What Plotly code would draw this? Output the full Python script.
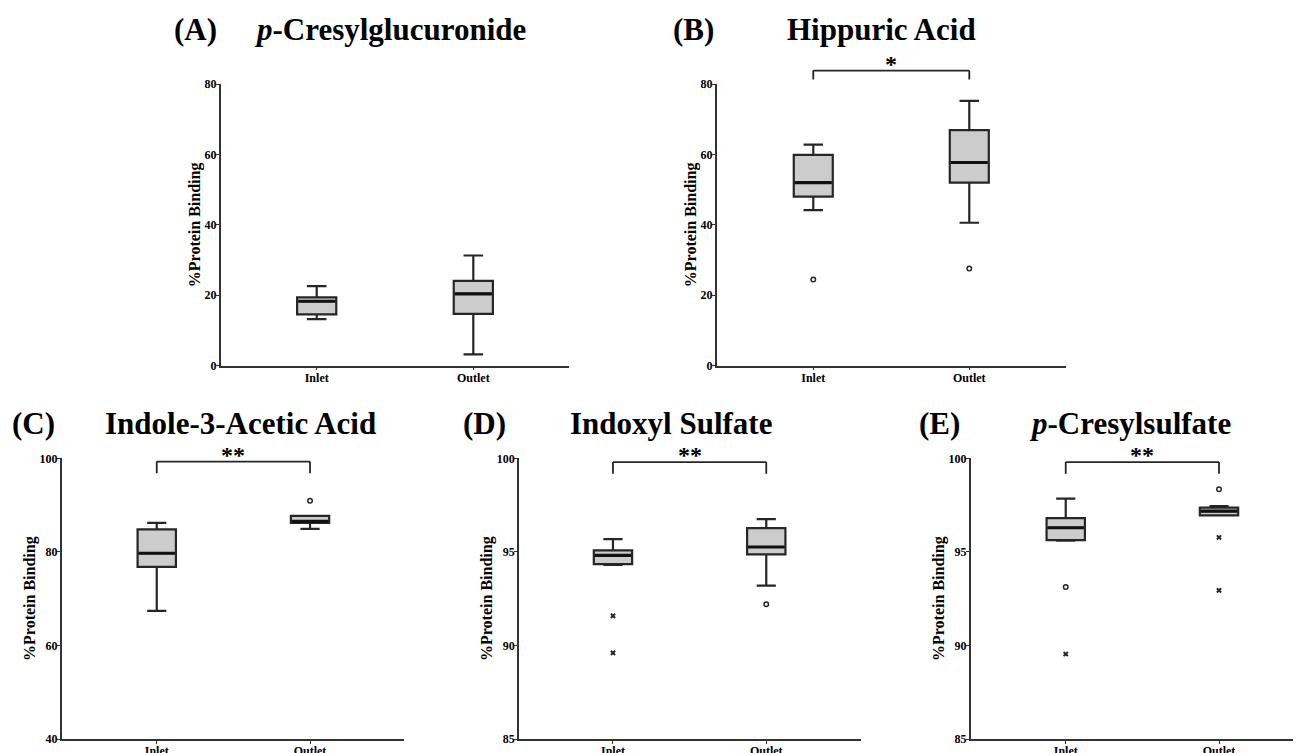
import plotly.graph_objects as go

OFF = 8                      # page body margin of the browser
W, H = 1301 - OFF, 753 - OFF
FONT = "Liberation Serif"
cats = ["Inlet", "Outlet"]

# panel titles
panel_labels = ["(A)", "(B)", "(C)", "(D)", "(E)"]
panel_titles = ["<i>p</i>-Cresylglucuronide", "Hippuric Acid", "Indole-3-Acetic Acid",
                "Indoxyl Sulfate", "<i>p</i>-Cresylsulfate"]

# box statistics per panel: [Inlet, Outlet]
lowerfence = [[13.2, 3.2], [44.2, 40.6], [67.4, 84.9], [94.3, 93.2], [95.6, 96.95]]
q1 = [[14.6, 14.7], [48.0, 52.0], [76.8, 86.2], [94.35, 94.87], [95.63, 96.95]]
median = [[18.3, 20.4], [52.0, 57.7], [79.7, 86.5], [94.81, 95.26], [96.29, 97.18]]
q3 = [[19.4, 24.1], [59.9, 66.9], [84.8, 87.7], [95.08, 96.27], [96.8, 97.36]]
upperfence = [[22.6, 31.3], [62.8, 75.2], [86.2, 87.7], [95.68, 96.75], [97.84, 97.45]]

# outliers (circles) and extremes (crosses): lists of (category, value)
out_circle = [[], [("Inlet", 24.5), ("Outlet", 27.6)], [("Outlet", 90.9)],
              [("Outlet", 92.2)], [("Inlet", 93.12), ("Outlet", 98.35)]]
out_cross = [[], [], [], [("Inlet", 91.58), ("Inlet", 89.6)],
             [("Inlet", 89.54), ("Outlet", 95.77), ("Outlet", 92.94)]]

# y-axis settings
y_ranges = [[0, 80], [0, 80], [40, 100], [85, 100], [85, 100]]
y_dticks = [20, 20, 20, 5, 5]

# significance brackets: (top value, end value, stars) or None
brackets = [None, (83.8, 81.3, "*"), (99.3, 96.8, "**"), (99.8, 99.17, "**"), (99.8, 99.17, "**")]

# layout geometry (screen pixels)
x_px = [(220.7, 569), (716.7, 1065.7), (61.7, 404), (519, 861), (970.7, 1301)]
y_px = [(84, 365.7), (84, 365.7), (458.3, 739), (458.3, 739), (458.3, 739)]
x_ranges = [[-0.613, 1.611], [-0.619, 1.618], [-0.62, 1.613], [-0.613, 1.618], [-0.62, 1.535]]
label_pos = [(195, 29), (693, 29), (33, 423), (484, 423), (939, 423)]
title_pos = [(390, 29), (881, 29), (240, 423), (671, 423), (1130, 423)]

fx = lambda p: min(1.0, max(0.0, (p - OFF) / W))
fy = lambda p: min(1.0, max(0.0, 1 - (p - OFF) / H))

fig = go.Figure()
layout = dict(
    width=W, height=H, margin=dict(l=0, r=0, t=0, b=0, pad=0, autoexpand=False),
    paper_bgcolor="white", plot_bgcolor="white", showlegend=False,
    font=dict(family=FONT, color="black"),
)
annotations = []
shapes = []
LINE = "#262626"

for i in range(5):
    n = i + 1
    xa = "x" if n == 1 else f"x{n}"
    ya = "y" if n == 1 else f"y{n}"
    xd = [fx(x_px[i][0]), fx(x_px[i][1])]
    yd = [fy(y_px[i][1]), fy(y_px[i][0])]
    fig.add_trace(go.Box(
        x=cats, q1=q1[i], median=median[i], q3=q3[i],
        lowerfence=lowerfence[i], upperfence=upperfence[i],
        boxpoints=False, width=0.25, whiskerwidth=0.5,
        fillcolor="#cccccc", line=dict(color=LINE, width=2.2),
        xaxis=xa, yaxis=ya, hoverinfo="skip",
    ))
    # thicker median line
    fig.add_trace(go.Box(
        x=cats, q1=median[i], median=median[i], q3=median[i],
        lowerfence=median[i], upperfence=median[i],
        boxpoints=False, width=0.235, whiskerwidth=0,
        fillcolor="rgba(0,0,0,0)", line=dict(color="#111111", width=3.2),
        xaxis=xa, yaxis=ya, hoverinfo="skip",
    ))
    if out_circle[i]:
        fig.add_trace(go.Scatter(
            x=[c for c, v in out_circle[i]], y=[v for c, v in out_circle[i]],
            mode="markers", xaxis=xa, yaxis=ya,
            marker=dict(symbol="circle-open", size=4.5, color=LINE, line=dict(width=1.5)),
        ))
    if out_cross[i]:
        fig.add_trace(go.Scatter(
            x=[c for c, v in out_cross[i]], y=[v for c, v in out_cross[i]],
            mode="markers", xaxis=xa, yaxis=ya,
            marker=dict(symbol="x", size=5, color=LINE, line=dict(width=0)),
        ))
    axis_common = dict(showline=True, linecolor="#333333", linewidth=1.5,
                       showgrid=False, zeroline=False, ticks="outside", ticklen=3,
                       tickwidth=1, tickcolor="#333333", automargin=False)
    layout["xaxis" if n == 1 else f"xaxis{n}"] = dict(
        domain=xd, anchor=ya, type="category", categoryorder="array", categoryarray=cats,
        range=x_ranges[i], ticklabelstandoff=-3,
        tickfont=dict(family=FONT, size=12, weight="bold"), **axis_common)
    layout["yaxis" if n == 1 else f"yaxis{n}"] = dict(
        domain=yd, anchor=xa, range=y_ranges[i], dtick=y_dticks[i], ticklabelstandoff=-3,
        tickfont=dict(family=FONT, size=12, weight="bold"),
        title=dict(text="%Protein Binding", font=dict(family=FONT, size=16, weight="bold"), standoff=0),
        **axis_common)
    # titles
    annotations.append(dict(text=panel_labels[i], x=fx(label_pos[i][0]), y=fy(label_pos[i][1]),
                            xref="paper", yref="paper", showarrow=False, xanchor="center", yanchor="middle",
                            font=dict(family=FONT, size=31, weight="bold")))
    annotations.append(dict(text=panel_titles[i], x=fx(title_pos[i][0]), y=fy(title_pos[i][1]),
                            xref="paper", yref="paper", showarrow=False, xanchor="center", yanchor="middle",
                            font=dict(family=FONT, size=31, weight="bold")))
    # brackets
    if brackets[i]:
        top, end, stars = brackets[i]
        r0, r1 = y_ranges[i]
        to_paper = lambda v: yd[0] + (v - r0) / (r1 - r0) * (yd[1] - yd[0])
        yt, ye = to_paper(top), to_paper(end)
        for (xa0, ya0, xa1, ya1) in [(0, ye, 0, yt), (0, yt, 1, yt), (1, yt, 1, ye)]:
            shapes.append(dict(type="line", xref=xa, yref="paper", x0=xa0, x1=xa1, y0=ya0, y1=ya1,
                               line=dict(color=LINE, width=1.8)))
        annotations.append(dict(text=stars, x=0.5, y=yt, xref=xa, yref="paper", showarrow=False,
                                xanchor="center", yanchor="bottom", yshift=-8,
                                font=dict(family=FONT, size=24, weight="bold")))

layout["annotations"] = annotations
layout["shapes"] = shapes
fig.update_layout(**layout)
fig.write_html("out.html")
